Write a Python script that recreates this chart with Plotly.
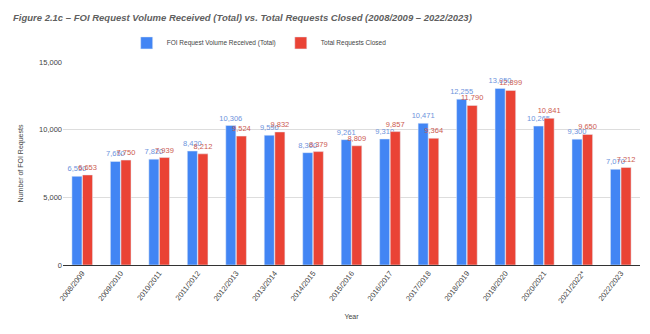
import plotly.graph_objects as go

years = ["2008/2009", "2009/2010", "2010/2011", "2011/2012", "2012/2013", "2013/2014",
         "2014/2015", "2015/2016", "2016/2017", "2017/2018", "2018/2019", "2019/2020",
         "2020/2021", "2021/2022*", "2022/2023"]
received = [6550, 7650, 7820, 8420, 10306, 9590, 8300, 9261, 9310, 10471, 12255, 13050, 10265, 9300, 7070]
closed = [6653, 7750, 7939, 8212, 9524, 9832, 8379, 8809, 9857, 9364, 11790, 12899, 10841, 9650, 7212]

fig = go.Figure()
fig.add_trace(go.Bar(
    x=years, y=received, name="FOI Request Volume Received (Total)",
    marker_color="#4285F4", text=[f"{v:,}" for v in received], textposition="outside",
    textfont=dict(color="#6d93dc", size=7.5, family="Arial"), cliponaxis=False,
    constraintext="none",
))
fig.add_trace(go.Bar(
    x=years, y=closed, name="Total Requests Closed",
    marker_color="#EA4335", text=[f"{v:,}" for v in closed], textposition="outside",
    textfont=dict(color="#cc5a50", size=7.5, family="Arial"), cliponaxis=False,
    constraintext="none",
))

fig.update_layout(
    width=650, height=334,
    margin=dict(l=63, r=10, t=62, b=69),
    paper_bgcolor="white", plot_bgcolor="white",
    font=dict(family="Arial, Liberation Sans", color="#444444", size=7),
    title=dict(
        text="<b><i>Figure 2.1c – FOI Request Volume Received (Total) vs. Total Requests Closed (2008/2009 – 2022/2023)</i></b>",
        x=0.02, xanchor="left", y=0.946, yanchor="middle",
        font=dict(size=9.5, color="#5f5f5f", family="Arial, Liberation Sans"),
    ),
    legend=dict(orientation="h", x=0.34, xanchor="center", y=1.094, yanchor="middle",
                font=dict(size=6.5, color="#444444"), bgcolor="rgba(0,0,0,0)",
                itemwidth=30, entrywidth=0),
    bargap=0.45, bargroupgap=0.05,
    xaxis=dict(
        title=dict(text="Year", font=dict(size=7, color="#444444"), standoff=10),
        tickangle=-52, tickfont=dict(size=7.5, color="#444444"),
        showline=True, linecolor="#333333", linewidth=1, ticks="",
    ),
    yaxis=dict(
        title=dict(text="Number of FOI Requests", font=dict(size=7, color="#444444"), standoff=14),
        range=[0, 15000], dtick=5000, tickformat=",",
        gridcolor="#dddddd", zeroline=False, tickfont=dict(size=7.5, color="#444444"),
    ),
)

fig.write_html("out.html")
